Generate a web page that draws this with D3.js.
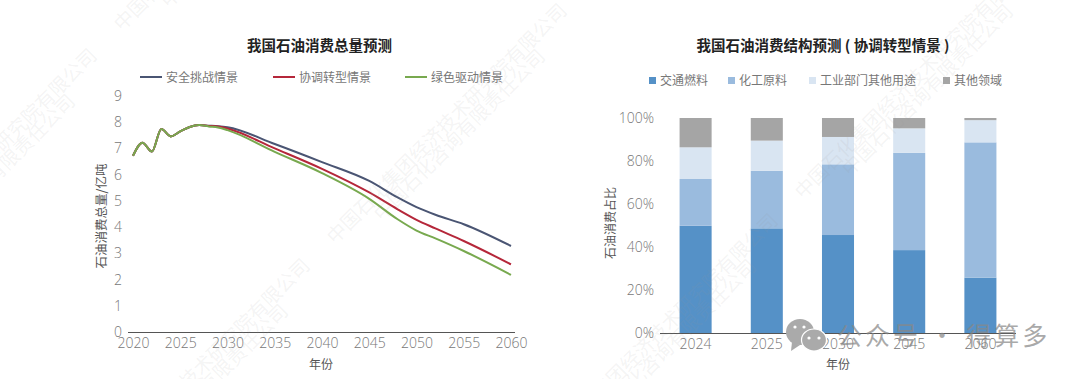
<!DOCTYPE html>
<html>
<head>
<meta charset="utf-8">
<script src="https://cdn.jsdelivr.net/npm/d3@7"></script>
<style>
  body { margin: 0; background: #fff; }
  svg text { font-family: "Noto Sans CJK SC", "Noto Sans", sans-serif; }
  .tick text { font-family: "Open Sans", "Noto Sans", sans-serif; font-weight: 300; }
</style>
</head>
<body>
<script>
// Datos
const years = [2020, 2021, 2022, 2023, 2024, 2025, 2026, 2027, 2028, 2029, 2030, 2035, 2040, 2045, 2048, 2050, 2052, 2055, 2060];
const safety = [6.72, 7.22, 6.88, 7.74, 7.46, 7.65, 7.82, 7.89, 7.87, 7.85, 7.81, 7.17, 6.48, 5.76, 5.13, 4.76, 4.47, 4.11, 3.28];
const coordinated = [6.72, 7.22, 6.88, 7.74, 7.46, 7.65, 7.82, 7.89, 7.86, 7.84, 7.76, 7.0, 6.22, 5.32, 4.68, 4.28, 3.95, 3.47, 2.58];
const green = [6.72, 7.22, 6.88, 7.74, 7.46, 7.65, 7.82, 7.89, 7.84, 7.8, 7.7, 6.87, 6.06, 5.08, 4.3, 3.87, 3.57, 3.09, 2.18];
const lineNames = ['安全挑战情景', '协调转型情景', '绿色驱动情景'];
const lineColors = ['#4a5573', '#b5273a', '#78a94f'];
const xTicks = [2020, 2025, 2030, 2035, 2040, 2045, 2050, 2055, 2060];
const yTicks = [0, 1, 2, 3, 4, 5, 6, 7, 8, 9];

const barYears = ['2024', '2025', '2030', '2045', '2060'];
const transport = [50, 48.8, 45.7, 38.7, 25.9];
const chemical = [21.7, 26.7, 32.8, 45.1, 62.8];
const industry = [14.7, 14, 12.7, 11.4, 10.3];
const others = [13.6, 10.5, 8.8, 4.8, 1];
const barNames = ['交通燃料', '化工原料', '工业部门其他用途', '其他领域'];
const barColors = ['#5591c7', '#9abbde', '#d9e5f2', '#a5a5a5'];

const textColor = '#777', labelColor = '#555', axisColor = '#555';

const svg = d3.select('body').append('svg')
    .attr('width', 1080)
    .attr('height', 379)
    .style('display', 'block');

function style_axis(g) {
  g.select('.domain').attr('stroke', axisColor).attr('stroke-width', 1.2);
  g.selectAll('.tick text').attr('fill', textColor).style('font-size', '14px');
}

// ---- Grafico izquierdo: lineas
const xLine = d3.scaleLinear().domain([2020, 2060]).range([133, 511]);
const yLine = d3.scaleLinear().domain([0, 9]).range([332, 96]);

const xAxisLeft = d3.axisBottom(xLine).tickValues(xTicks).tickFormat(d3.format('d')).tickSize(0).tickPadding(6);
const yAxisLeft = d3.axisLeft(yLine).tickValues(yTicks).tickSize(0).tickPadding(5);

svg.append('g').attr('transform', 'translate(0,332)').call(xAxisLeft).call(style_axis)
    .call(g => g.select('.domain').attr('d', 'M128,0.5H515'));
svg.append('g').attr('transform', 'translate(127,0)').call(yAxisLeft).call(style_axis)
    .call(g => g.select('.domain').remove());

const line = d3.line()
    .x((d, i) => xLine(years[i]))
    .y(d => yLine(d))
    .curve(d3.curveMonotoneX);

[safety, coordinated, green].forEach((s, i) => {
  svg.append('path')
      .attr('d', line(s))
      .attr('fill', 'none')
      .attr('stroke', lineColors[i])
      .attr('stroke-width', 2);
});

// ---- Grafico derecho: barras apiladas
const barRows = barYears.map((y, i) => ({
  year: y, '交通燃料': transport[i], '化工原料': chemical[i], '工业部门其他用途': industry[i], '其他领域': others[i]
}));
const series = d3.stack().keys(barNames)(barRows);

const xBar = d3.scaleBand().domain(barYears).range([660, 1016]).paddingInner(0.55).paddingOuter(0.275);
const yBar = d3.scaleLinear().domain([0, 100]).range([333.5, 118]);
const colorBar = d3.scaleOrdinal().domain(barNames).range(barColors);

svg.selectAll('.serie')
    .data(series)
    .enter().append('g')
      .attr('class', 'serie')
      .attr('fill', d => colorBar(d.key))
    .selectAll('rect')
      .data(d => d)
      .enter().append('rect')
        .attr('x', d => xBar(d.data.year))
        .attr('y', d => yBar(d[1]))
        .attr('height', d => yBar(d[0]) - yBar(d[1]))
        .attr('width', xBar.bandwidth());

svg.append('g').attr('transform', 'translate(0,333.5)')
    .call(d3.axisBottom(xBar).tickSize(0).tickPadding(6)).call(style_axis)
    .call(g => g.select('.domain').attr('d', 'M660,0H1016'));
svg.append('g').attr('transform', 'translate(659,0)')
    .call(d3.axisLeft(yBar).tickValues([0, 20, 40, 60, 80, 100]).tickFormat(d => d + '%').tickSize(0).tickPadding(5))
    .call(style_axis)
    .call(g => g.select('.domain').remove());

// ---- Titulos y etiquetas
function add_text(x, y, txt, size, weight, fill, rotate) {
  const t = svg.append('text')
      .attr('text-anchor', 'middle')
      .attr('font-size', size)
      .attr('font-weight', weight)
      .attr('fill', fill)
      .text(txt);
  if (rotate) t.attr('transform', `translate(${x},${y}) rotate(-90)`);
  else t.attr('x', x).attr('y', y);
}
add_text(319.5, 51, '我国石油消费总量预测', 14.5, 700, '#222');
add_text(823, 51, '我国石油消费结构预测 ( 协调转型情景 )', 14.5, 700, '#222');
add_text(321, 369, '年份', 12, 400, labelColor);
add_text(838, 369, '年份', 12, 400, labelColor);
add_text(105.5, 216, '石油消费总量/亿吨', 12.5, 400, labelColor, true);
add_text(615, 223, '石油消费占比', 12, 400, labelColor, true);

// ---- Leyendas
const legendLineX = [140, 273, 405];
lineNames.forEach((n, i) => {
  svg.append('line')
      .attr('x1', legendLineX[i]).attr('x2', legendLineX[i] + 22)
      .attr('y1', 77).attr('y2', 77)
      .attr('stroke', lineColors[i]).attr('stroke-width', 2);
  svg.append('text')
      .attr('x', legendLineX[i] + 26).attr('y', 81.5)
      .attr('font-size', 12).attr('fill', textColor)
      .text(n);
});

const legendBarX = [649, 728, 809, 943];
barNames.forEach((n, i) => {
  svg.append('rect')
      .attr('x', legendBarX[i]).attr('y', 77)
      .attr('width', 7).attr('height', 7)
      .attr('fill', barColors[i]);
  svg.append('text')
      .attr('x', legendBarX[i] + 11).attr('y', 85)
      .attr('font-size', 12).attr('fill', textColor)
      .text(n);
});

// ---- Marca de agua diagonal del original
const marks = [
  ['中国石化集团经济技术研究院有限公司', 335, 245],
  ['中国石化咨询有限责任公司', 382, 222],
  ['中国石化集团经济技术研究院有限公司', -135, 290],
  ['中国石化咨询有限责任公司', -88, 267],
  ['中国石化集团经济技术研究院有限公司', 78, 500],
  ['中国石化咨询有限责任公司', 125, 477],
  ['中国石化集团经济技术研究院有限公司', 122, 32],
  ['中国石化咨询有限责任公司', 169, 9],
  ['中国石化集团经济技术研究院有限公司', 803, 200],
  ['中国石化咨询有限责任公司', 850, 177],
  ['中国石化集团经济技术研究院有限公司', 546, 455],
  ['中国石化咨询有限责任公司', 593, 432]
];
marks.forEach(m => {
  svg.append('text')
      .attr('transform', `translate(${m[1]},${m[2]}) rotate(-45)`)
      .attr('font-size', 19.4)
      .attr('fill', '#999')
      .attr('fill-opacity', 0.11)
      .text(m[0]);
});

// ---- Sello del canal
const stamp = svg.append('g');
stamp.append('ellipse').attr('cx', 800).attr('cy', 332).attr('rx', 14).attr('ry', 13).attr('fill', '#aaa');
stamp.append('path').attr('d', 'M792,342L791,351L800,345Z').attr('fill', '#aaa');
stamp.append('ellipse').attr('cx', 814).attr('cy', 340).attr('rx', 12.5).attr('ry', 11).attr('fill', '#aaa').attr('stroke', '#fff').attr('stroke-width', 1.2);
stamp.selectAll('circle')
    .data([[795, 327], [804, 327], [809, 338], [819, 338]])
    .enter().append('circle')
      .attr('cx', d => d[0]).attr('cy', d => d[1]).attr('r', 1.6)
      .attr('fill', '#fff');
svg.append('text')
    .attr('x', 837).attr('y', 345)
    .attr('font-size', 25)
    .attr('fill', '#888')
    .attr('fill-opacity', 0.72)
    .attr('letter-spacing', 3)
    .text('公众号 · 得算多');
</script>
</body>
</html>
